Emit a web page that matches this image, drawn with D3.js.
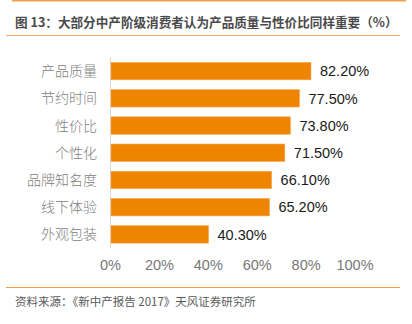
<!DOCTYPE html>
<html><head><meta charset="utf-8">
<script src="https://cdn.jsdelivr.net/npm/d3@7"></script>
<style>
html,body{margin:0;padding:0;background:#fff;}
svg{display:block;}
</style></head>
<body>
<svg id="c" width="412" height="324"></svg>
<script>
const categories = ["产品质量","节约时间","性价比","个性化","品牌知名度","线下体验","外观包装"];
const values = [82.2, 77.5, 73.8, 71.5, 66.1, 65.2, 40.3];
const ticks = [0, 20, 40, 60, 80, 100];
const title = "图 13：大部分中产阶级消费者认为产品质量与性价比同样重要（%）";
const source = "资料来源：《新中产报告 2017》天风证券研究所";

const svg = d3.select("#c");
const cjk = "'Noto Sans CJK SC','Noto Sans',sans-serif";
const latin = "'Liberation Sans',Arial,sans-serif";

// frame lines
svg.append("line").attr("x1",12).attr("x2",406).attr("y1",0.75).attr("y2",0.75)
  .attr("stroke","#F0A050").attr("stroke-width",1.5);
svg.append("line").attr("x1",6).attr("x2",400).attr("y1",35.5).attr("y2",35.5)
  .attr("stroke","#F5A868").attr("stroke-width",1.2);
svg.append("line").attr("x1",6).attr("x2",400).attr("y1",287.5).attr("y2",287.5)
  .attr("stroke","#F39A3A").attr("stroke-width",1.2);

svg.append("text").attr("x",15).attr("y",27)
  .attr("font-family",cjk).attr("font-size",12.6).attr("font-weight","bold")
  .attr("fill","#4a4a4a").text(title);
svg.append("text").attr("x",15).attr("y",306)
  .attr("font-family",cjk).attr("font-size",11.5)
  .attr("fill","#5a5a5a").text(source);

const x = d3.scaleLinear().domain([0,100]).range([110, 354.5]);
const y = d3.scaleBand().domain(categories).range([57.5, 248]).paddingInner(0.36).paddingOuter(0.18);

// vertical axis line
svg.append("line").attr("x1",110.5).attr("x2",110.5).attr("y1",57).attr("y2",248)
  .attr("stroke","#d9d9d9").attr("stroke-width",1);

const g = svg.append("g");
g.selectAll("rect").data(values).join("rect")
  .attr("x", x(0)+1)
  .attr("y", (d,i)=>y(categories[i]))
  .attr("width", d=>x(d)-x(0)-1)
  .attr("height", y.bandwidth())
  .attr("fill","#EE8400")
  .attr("stroke","#F3A850").attr("stroke-width",0.6);

g.selectAll("text.v").data(values).join("text").attr("class","v")
  .attr("x", d=>x(d)+9)
  .attr("y", (d,i)=>y(categories[i])+y.bandwidth()/2)
  .attr("dy","0.36em")
  .attr("font-family",latin).attr("font-size",14.5).attr("fill","#1a1a1a")
  .text(d=>d.toFixed(2)+"%");

g.selectAll("text.c").data(categories).join("text").attr("class","c")
  .attr("x", 97)
  .attr("y", d=>y(d)+y.bandwidth()/2)
  .attr("dy","0.36em").attr("text-anchor","end")
  .attr("font-family",cjk).attr("font-size",14).attr("font-weight",300).attr("fill","#808080")
  .text(d=>d);

// x axis tick labels
const axis = d3.axisBottom(x).tickValues(ticks).tickFormat(d=>d+"%").tickSize(0).tickPadding(0);
const ag = svg.append("g").attr("transform","translate(0,260)").call(axis);
ag.select(".domain").remove();
ag.selectAll("text").attr("font-family",latin).attr("font-size",14.5).attr("fill","#777").attr("dy","0.7em");
</script>
</body></html>
